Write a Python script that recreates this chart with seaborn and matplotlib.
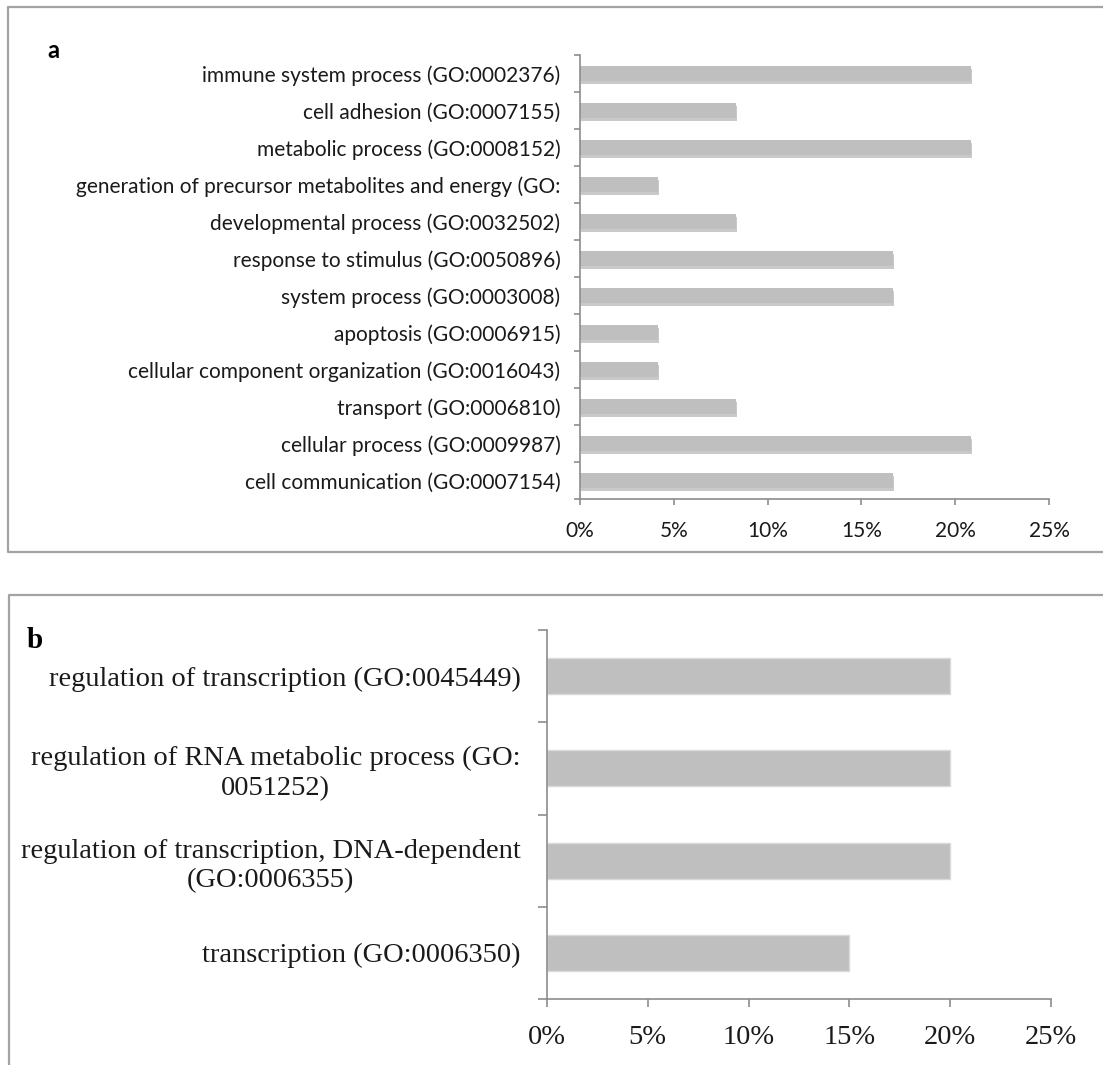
import matplotlib
matplotlib.use("Agg")
import matplotlib.pyplot as plt
import matplotlib.patheffects as pe
from matplotlib.lines import Line2D
from matplotlib.ticker import FixedLocator, PercentFormatter
import numpy as np
import pandas as pd
import seaborn as sns

# ---- data -------------------------------------------------------------
bio_terms = [
    "immune system process (GO:0002376)",
    "cell adhesion (GO:0007155)",
    "metabolic process (GO:0008152)",
    "generation of precursor metabolites and energy (GO:",
    "developmental process (GO:0032502)",
    "response to stimulus (GO:0050896)",
    "system process (GO:0003008)",
    "apoptosis (GO:0006915)",
    "cellular component organization (GO:0016043)",
    "transport (GO:0006810)",
    "cellular process (GO:0009987)",
    "cell communication (GO:0007154)",
]
bio_pct = [20.83, 8.33, 20.83, 4.17, 8.33, 16.67, 16.67, 4.17, 4.17, 8.33, 20.83, 16.67]

tx_terms = [
    "regulation of transcription (GO:0045449)",
    "regulation of RNA metabolic process (GO:\n0051252)",
    "regulation of transcription, DNA-dependent\n(GO:0006355)",
    "transcription (GO:0006350)",
]
tx_pct = [20, 20, 20, 15]

x_ticks = [0, 5, 10, 15, 20, 25]

# ---- style ------------------------------------------------------------
sns.set_theme(style="white")
plt.rcParams["font.family"] = ["Lato", "DejaVu Sans"]

W, H = 1103, 1065
fig = plt.figure(figsize=(W / 100, H / 100), dpi=100)
fig.patch.set_facecolor("white")

BAR = "#bfbfbf"
SPINE = "#8c8c8c"
TXT = "#1a1a1a"


def fx(px):
    return px / W


def fy(py):
    return 1 - py / H


def style_axis(ax, n, tick_len, font, size, ypad, xpad, xlen):
    for s in ("top", "right"):
        ax.spines[s].set_visible(False)
    for s in ("left", "bottom"):
        ax.spines[s].set_color(SPINE)
        ax.spines[s].set_linewidth(1.2)
    ax.set_xlim(0, 25)
    ax.set_ylim(n - 0.5, -0.5)
    ax.xaxis.set_major_locator(FixedLocator(x_ticks))
    ax.xaxis.set_major_formatter(PercentFormatter(decimals=0))
    ax.yaxis.set_minor_locator(FixedLocator(np.arange(-0.5, n, 1.0)))
    ax.tick_params(axis="x", which="major", direction="out", length=xlen,
                   width=1.2, color=SPINE, pad=xpad, labelsize=size,
                   labelcolor=TXT, bottom=True)
    ax.tick_params(axis="y", which="major", length=0, pad=ypad,
                   labelsize=size, labelcolor=TXT, left=True)
    ax.tick_params(axis="y", which="minor", direction="out", length=tick_len,
                   width=1.2, color=SPINE, left=True)
    for lab in ax.get_xticklabels() + ax.get_yticklabels():
        lab.set_fontfamily(font)
    for lab in ax.get_yticklabels():
        lab.set_multialignment("center")
        lab.set_linespacing(1.25)
    ax.set_xlabel("")
    ax.set_ylabel("")
    ax.grid(False)


# ---- panel a ----------------------------------------------------------
ax_a = fig.add_axes([fx(580), fy(499), fx(1049 - 580), (499 - 55) / H])
df_a = pd.DataFrame({"term": bio_terms, "pct": bio_pct})
sns.barplot(data=df_a, x="pct", y="term", orient="h", color=BAR,
            width=0.41, saturation=1, ax=ax_a)
for bar in ax_a.patches:
    bar.set_edgecolor("none")
    bar.set_path_effects([
        pe.SimplePatchShadow(offset=(0.6, -2.2), shadow_rgbFace="#7a7a7a", alpha=0.4),
        pe.Normal(),
    ])
style_axis(ax_a, len(bio_terms), 4.5, ["Lato", "DejaVu Sans"], 15, 14, 11, 4.5)

# ---- panel b ----------------------------------------------------------
ax_b = fig.add_axes([fx(547), fy(999), fx(1051 - 547), (999 - 630) / H])
df_b = pd.DataFrame({"term": tx_terms, "pct": tx_pct})
sns.barplot(data=df_b, x="pct", y="term", orient="h", color=BAR,
            width=0.39, saturation=1, ax=ax_b)
for bar in ax_b.patches:
    bar.set_edgecolor("#dadada")
    bar.set_linewidth(1.0)
style_axis(ax_b, len(tx_terms), 6.5, ["Liberation Serif", "DejaVu Serif"], 20.5, 19, 13, 6)

# ---- panel frames and letters ------------------------------------------
frame = dict(color="#a3a3a3", linewidth=1.6, transform=fig.transFigure)
fig.add_artist(Line2D([fx(8), fx(8), 1, ], [fy(7), fy(552), fy(552)], **frame))
fig.add_artist(Line2D([fx(8), 1], [fy(7), fy(7)], **frame))
fig.add_artist(Line2D([fx(9), fx(9), 1], [0, fy(595), fy(595)], **frame))

fig.text(fx(47), fy(50), "a", fontsize=17, fontweight="bold",
         ha="left", va="center", color="black", family=["Lato", "DejaVu Sans"])
fig.text(fx(27), fy(640), "b", fontsize=21, fontweight="bold",
         ha="left", va="center", color="black",
         family=["Liberation Serif", "DejaVu Serif"])

fig.savefig("out.png", dpi=100, facecolor="white")
